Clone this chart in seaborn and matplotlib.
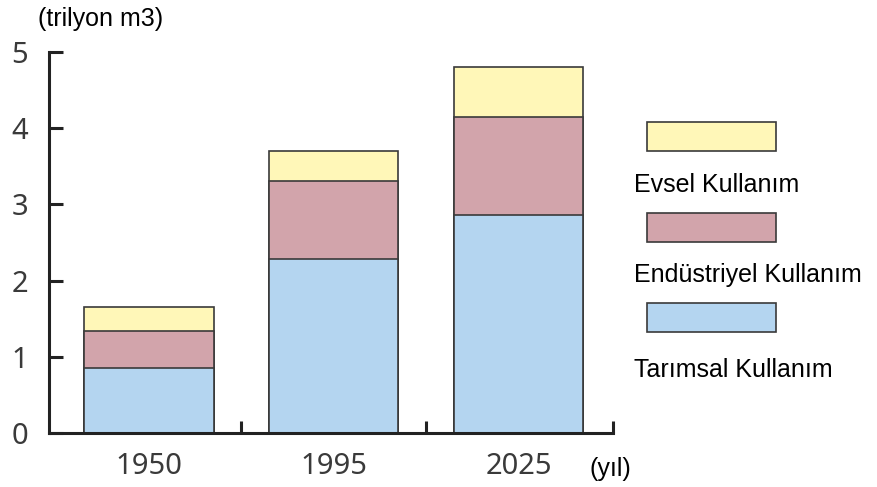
import matplotlib
matplotlib.use("Agg")
import matplotlib.pyplot as plt
from matplotlib.patches import Rectangle
import seaborn as sns
import pandas as pd
import numpy as np

# Water use by sector (trillion m3)
years = ["1950", "1995", "2025"]
tarimsal = [0.85, 2.28, 2.86]
endustriyel = [0.49, 1.03, 1.29]
evsel = [0.31, 0.39, 0.65]

series_names = ["Evsel Kullanım", "Endüstriyel Kullanım", "Tarımsal Kullanım"]
colors = {"Evsel Kullanım": "#fff7b8",
          "Endüstriyel Kullanım": "#d2a4ab",
          "Tarımsal Kullanım": "#b4d5f0"}
yticks = [0, 1, 2, 3, 4, 5]

sns.set_theme(style="white")
plt.rcParams["font.family"] = ["Liberation Sans", "DejaVu Sans"]

df = pd.DataFrame({"yil": years, "tar": tarimsal, "end": endustriyel, "evs": evsel})
df["c_tar"] = df["tar"]
df["c_end"] = df["tar"] + df["end"]
df["c_evs"] = df["c_end"] + df["evs"]

fig = plt.figure(figsize=(8.78, 4.87), dpi=100)
ax = fig.add_axes([49 / 878, 1 - 433 / 487, (613 - 49) / 878, (433 - 52) / 487])

edge = "#3a3a3a"
bar_kw = dict(width=0.70, edgecolor=edge, linewidth=1.2, saturation=1, ax=ax, order=years)
# stacked by overlaying cumulative totals, top segment first
sns.barplot(data=df, x="yil", y="c_evs", color=colors["Evsel Kullanım"], **bar_kw)
sns.barplot(data=df, x="yil", y="c_end", color=colors["Endüstriyel Kullanım"], **bar_kw)
sns.barplot(data=df, x="yil", y="c_tar", color=colors["Tarımsal Kullanım"], **bar_kw)

ax.set_xlim(-0.54, 2.51)
ax.set_ylim(0, 5)
ax.set_xlabel("")
ax.set_ylabel("")

for s in ["top", "right"]:
    ax.spines[s].set_visible(False)
for s in ["left", "bottom"]:
    ax.spines[s].set_color("#222222")
    ax.spines[s].set_linewidth(2.2)

tick_font = dict(family=["Noto Sans", "DejaVu Sans"], size=21, color="#3a3a3a")
ax.set_yticks(yticks)
ax.set_yticklabels([str(t) for t in yticks], **tick_font)
ax.tick_params(axis="y", direction="in", length=10, width=2.2, color="#222222",
               pad=15, left=True)
ax.set_xticks(range(len(years)))
ax.set_xticklabels(years, **tick_font)
ax.tick_params(axis="x", which="major", length=0, pad=14, bottom=True)
ax.set_xticks([0.5, 1.5, 2.51], minor=True)
ax.tick_params(axis="x", which="minor", direction="in", length=9, width=2.2,
               color="#222222", bottom=True)

# unit labels
fig.text(38 / 878, 1 - 19 / 487, "(trilyon m3)", fontsize=18, color="black",
         ha="left", va="center")
fig.text(590 / 878, 1 - 469 / 487, "(yıl)", fontsize=18, color="black",
         ha="left", va="center")

# legend: swatch above each label
swatch_tops = [122, 213, 303]
label_centers = [185, 275, 370]
for name, top, lc in zip(series_names, swatch_tops, label_centers):
    fig.add_artist(Rectangle((647 / 878, 1 - (top + 29) / 487), 129 / 878, 29 / 487,
                             transform=fig.transFigure, facecolor=colors[name],
                             edgecolor=edge, linewidth=1.2))
    fig.text(634 / 878, 1 - lc / 487, name, fontsize=18, color="black",
             ha="left", va="center")

fig.savefig("out.png", dpi=100)
